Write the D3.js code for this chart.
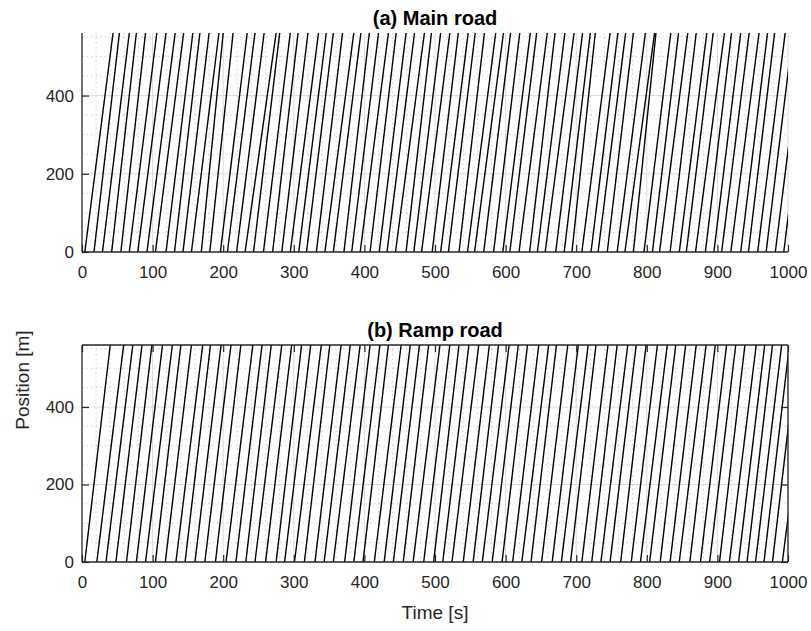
<!DOCTYPE html>
<html>
<head>
<meta charset="utf-8">
<script src="https://cdn.jsdelivr.net/npm/d3@7"></script>
<style>
    body { margin: 0; background: #fff; }
    svg.vis { display: block; }
    svg.vis text { font-family: "Liberation Sans", Arial, sans-serif; fill: #262626; }
</style>
</head>
<body>
<svg class="vis" width="811" height="631"></svg>
<script>

// entry times [s] of each vehicle at position 0, and travel time to the end of the road
const main_start = [
    4, 17, 29, 42, 55, 67, 79, 92, 104, 119,
    131, 143, 155, 169, 181, 196, 206, 219, 231, 243,
    257, 270, 283, 295, 307, 318, 332, 344, 356, 371,
    382, 394, 408, 421, 432, 444, 459, 470, 481, 496,
    508, 519, 534, 546, 556, 569, 583, 596, 606, 619,
    634, 645, 656, 671, 683, 694, 708, 721, 731, 744,
    758, 769, 781, 796, 808, 818, 833, 846, 856, 869,
    883, 895, 906, 919, 933, 944, 957, 969, 982, 994
];

const main_dur = [
    40, 36, 38, 35, 35, 39, 40, 40, 40, 38,
    36, 37, 39, 31, 33, 38, 39, 39, 44, 37,
    38, 36, 37, 40, 39, 38, 37, 41, 39, 36,
    38, 40, 37, 38, 39, 41, 36, 38, 40, 37,
    39, 38, 36, 40, 41, 38, 37, 39, 38, 40,
    36, 39, 41, 38, 37, 33, 40, 38, 39, 37,
    40, 42, 32, 38, 37, 40, 37, 39, 38, 41,
    37, 38, 39, 40, 38, 37, 39, 38, 39, 38
];

const ramp_start = [
    4, 21, 34, 48, 63, 77, 90, 104, 118, 133,
    146, 160, 174, 189, 204, 218, 232, 245, 260, 275,
    287, 301, 315, 330, 343, 356, 372, 385, 398, 414,
    428, 441, 455, 469, 484, 498, 511, 524, 540, 554,
    567, 581, 595, 610, 623, 636, 651, 666, 679, 692,
    708, 722, 735, 748, 763, 778, 791, 804, 819, 833,
    846, 861, 876, 889, 903, 917, 930, 942, 954, 966,
    978, 992
];

const ramp_dur = [
    36, 38, 38, 37, 36, 37, 38, 36, 37, 38,
    36, 37, 37, 36, 38, 37, 36, 38, 37, 36,
    37, 38, 36, 37, 37, 38, 36, 37, 36, 38,
    37, 37, 36, 38, 37, 36, 37, 38, 37, 36,
    38, 37, 36, 37, 38, 36, 37, 37, 38, 36,
    37, 36, 38, 37, 36, 37, 38, 37, 36, 37,
    38, 36, 37, 37, 36, 38, 37, 36, 37, 36,
    36, 39
];

const x_ticks = [0, 100, 200, 300, 400, 500, 600, 700, 800, 900, 1000];
const y_ticks = [0, 200, 400];
const road_len = 560;
const t_max = 1000;

const panels = [
    { title: "(a) Main road", start: main_start, dur: main_dur, box: false },
    { title: "(b) Ramp road", start: ramp_start, dur: ramp_dur, box: true }
];

const vis = {

    refs: {
        svg: "svg.vis"
    },

    sels: {
        svg: null
    },

    dims: {
        w: 811,
        h: 631,
        left: 82,
        right: 788,
        tops: [33, 345],
        bottoms: [252, 562],
        tick: 7
    },

    f: {

        generates_refs: function() {
            vis.sels.svg = d3.select(vis.refs.svg);
        },

        trajectories: function(p) {
            // each vehicle goes straight from the start of the road to its end
            return p.start.map((s, i) => [[s, 0], [s + p.dur[i], road_len]]);
        }

    },

    draw: {

        panel: function(p, k) {

            const svg = vis.sels.svg;
            const top = vis.dims.tops[k];
            const bottom = vis.dims.bottoms[k];

            const x = d3.scaleLinear().domain([0, t_max]).range([vis.dims.left, vis.dims.right]);
            const y = d3.scaleLinear().domain([0, road_len]).range([bottom, top]);

            const g = svg.append("g");

            // minor grid
            g.append("g")
                .attr("stroke", "#c8c8c8")
                .attr("stroke-width", 0.8)
                .attr("stroke-dasharray", "1.5,3")
                .selectAll("line")
                .data(d3.range(20, t_max + 1, 20).filter(v => v % 100 != 0))
                .join("line")
                .attr("x1", d => x(d)).attr("x2", d => x(d))
                .attr("y1", top).attr("y2", bottom);

            g.append("g")
                .attr("stroke", "#c8c8c8")
                .attr("stroke-width", 0.8)
                .attr("stroke-dasharray", "1.5,3")
                .selectAll("line")
                .data(d3.range(50, road_len, 50).filter(v => v % 200 != 0))
                .join("line")
                .attr("x1", vis.dims.left).attr("x2", vis.dims.right)
                .attr("y1", d => y(d)).attr("y2", d => y(d));

            // major grid
            g.append("g")
                .attr("stroke", "#dcdcdc")
                .attr("stroke-width", 1)
                .selectAll("line")
                .data(x_ticks.slice(1))
                .join("line")
                .attr("x1", d => x(d)).attr("x2", d => x(d))
                .attr("y1", top).attr("y2", bottom);

            g.append("g")
                .attr("stroke", "#dcdcdc")
                .attr("stroke-width", 1)
                .selectAll("line")
                .data(y_ticks.slice(1))
                .join("line")
                .attr("x1", vis.dims.left).attr("x2", vis.dims.right)
                .attr("y1", d => y(d)).attr("y2", d => y(d));

            // trajectories
            svg.append("clipPath")
                .attr("id", "clip" + k)
                .append("rect")
                .attr("x", vis.dims.left).attr("y", top)
                .attr("width", vis.dims.right - vis.dims.left)
                .attr("height", bottom - top);

            const line = d3.line().x(d => x(d[0])).y(d => y(d[1]));

            g.append("g")
                .attr("clip-path", "url(#clip" + k + ")")
                .attr("fill", "none")
                .attr("stroke", "#000")
                .attr("stroke-width", 1.4)
                .selectAll("path")
                .data(vis.f.trajectories(p))
                .join("path")
                .attr("d", line);

            // axes, ticks inside like matlab
            const xAxis = d3.axisBottom(x).tickValues(x_ticks).tickFormat(d3.format("d"))
                .tickSize(-vis.dims.tick).tickPadding(14);
            const yAxis = d3.axisLeft(y).tickValues(y_ticks).tickFormat(d3.format("d"))
                .tickSize(-vis.dims.tick).tickPadding(8);

            const gx = g.append("g").attr("transform", "translate(0," + bottom + ")").call(xAxis);
            const gy = g.append("g").attr("transform", "translate(" + vis.dims.left + ",0)").call(yAxis);

            [gx, gy].forEach(a => {
                a.select(".domain").attr("stroke", "#262626").attr("stroke-width", 1.3);
                a.selectAll(".tick line").attr("stroke", "#262626").attr("stroke-width", 1.2);
                a.selectAll(".tick text")
                    .attr("font-size", 17)
                    .attr("fill", "#262626")
                    .attr("font-family", "Liberation Sans, Arial, sans-serif");
            });
            gx.select(".domain").attr("d", "M" + vis.dims.left + ",0H" + vis.dims.right);
            gy.select(".domain").attr("d", "M0," + bottom + "V" + top);

            if (p.box) {
                const xTop = d3.axisTop(x).tickValues(x_ticks).tickSize(-vis.dims.tick).tickFormat("");
                const yRight = d3.axisRight(y).tickValues(y_ticks).tickSize(-vis.dims.tick).tickFormat("");
                const gt = g.append("g").attr("transform", "translate(0," + top + ")").call(xTop);
                const gr = g.append("g").attr("transform", "translate(" + vis.dims.right + ",0)").call(yRight);
                [gt, gr].forEach(a => {
                    a.select(".domain").attr("stroke", "#262626").attr("stroke-width", 1.3);
                    a.selectAll(".tick line").attr("stroke", "#262626").attr("stroke-width", 1.2);
                });
                gt.select(".domain").attr("d", "M" + vis.dims.left + ",0H" + vis.dims.right);
                gr.select(".domain").attr("d", "M0," + bottom + "V" + top);
            }

            // title
            svg.append("text")
                .attr("x", (vis.dims.left + vis.dims.right) / 2)
                .attr("y", top - 8)
                .attr("text-anchor", "middle")
                .attr("font-size", 20)
                .attr("font-weight", "bold")
                .style("fill", "#000")
                .text(p.title);

        },

        labels: function() {

            const svg = vis.sels.svg;

            svg.append("text")
                .attr("x", (vis.dims.left + vis.dims.right) / 2)
                .attr("y", 619)
                .attr("text-anchor", "middle")
                .attr("font-size", 19)
                .text("Time [s]");

            svg.append("text")
                .attr("transform", "translate(29,380) rotate(-90)")
                .attr("text-anchor", "middle")
                .attr("font-size", 19)
                .text("Position [m]");

        }

    },

    control: {

        init: function() {
            vis.f.generates_refs();
            panels.forEach((p, k) => vis.draw.panel(p, k));
            vis.draw.labels();
        }

    }

};

vis.control.init();
</script>
</body>
</html>
